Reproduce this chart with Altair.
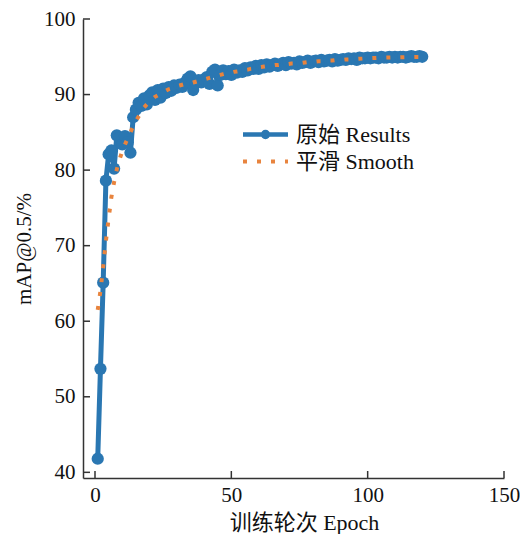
import altair as alt
import pandas as pd

epochs = list(range(1, 121))

results = [
    41.8, 53.7, 65.1, 78.6, 82.1, 82.6, 80.2, 84.6, 84.3, 83.4,
    84.5, 83.7, 82.3, 87.0, 88.0, 88.9, 88.5, 89.5, 88.7, 89.9,
    90.3, 89.3, 90.6, 89.6, 90.8, 90.2, 91.0, 90.5, 91.2, 90.9,
    91.3, 91.0, 91.6, 92.1, 92.4, 90.6, 91.5, 91.9, 91.6, 92.0,
    92.3, 91.4, 93.0, 93.3, 91.2, 92.6, 93.2, 92.7, 93.1, 92.6,
    93.3, 92.9, 93.2, 93.0, 93.5, 93.2, 93.6, 93.4, 93.8, 93.4,
    93.9, 93.6, 94.0, 93.7, 93.9, 94.1, 93.8, 94.0, 94.2, 93.9,
    94.3, 94.1, 94.2, 94.0, 94.4, 94.2, 94.3, 94.5, 94.2, 94.4,
    94.5, 94.3, 94.6, 94.4, 94.5, 94.6, 94.4, 94.7, 94.5, 94.6,
    94.7, 94.6, 94.8, 94.7, 94.8, 94.6, 94.9, 94.8, 94.8, 94.9,
    94.8, 94.9, 94.9, 94.8, 95.0, 94.9, 94.9, 95.0, 94.9, 95.0,
    94.9, 95.0, 95.0, 94.9, 95.0, 95.1, 95.0, 95.0, 95.1, 95.0,
]

smooth = [
    61.5, 64.0, 67.2, 70.6, 73.6, 76.4, 78.4, 80.1, 81.4, 82.5,
    83.4, 84.2, 85.0, 85.8, 86.5, 87.1, 87.7, 88.3, 88.7, 89.1,
    89.4, 89.7, 89.9, 90.1, 90.3, 90.5, 90.7, 90.8, 91.0, 91.1,
    91.2, 91.3, 91.4, 91.5, 91.5, 91.6, 91.7, 91.8, 91.9, 92.0,
    92.1, 92.2, 92.3, 92.4, 92.5, 92.6, 92.7, 92.8, 92.85, 92.9,
    93.0, 93.05, 93.1, 93.2, 93.25, 93.3, 93.4, 93.45, 93.5, 93.6,
    93.65, 93.7, 93.75, 93.8, 93.85, 93.9, 93.9, 93.95, 94.0, 94.0,
    94.05, 94.1, 94.1, 94.15, 94.2, 94.2, 94.25, 94.3, 94.3, 94.35,
    94.35, 94.4, 94.4, 94.45, 94.45, 94.5, 94.5, 94.55, 94.55, 94.6,
    94.6, 94.65, 94.65, 94.7, 94.7, 94.72, 94.75, 94.77, 94.8, 94.8,
    94.82, 94.84, 94.85, 94.87, 94.88, 94.89, 94.9, 94.91, 94.92, 94.92,
    94.93, 94.94, 94.94, 94.95, 94.95, 94.96, 94.96, 94.97, 94.97, 94.97,
]

series_names = ["原始 Results", "平滑 Smooth"]
x_ticks = [0, 50, 100, 150]
y_ticks = [40, 50, 60, 70, 80, 90, 100]

BLUE = "#2a77b2"
ORANGE = "#e8843e"
FONT = "Liberation Serif, Noto Sans CJK SC"
W, H = 421, 459

df = pd.DataFrame({
    "epoch": epochs * 2,
    "value": results + smooth,
    "series": [series_names[0]] * len(epochs) + [series_names[1]] * len(epochs),
})
df_x = pd.DataFrame({"epoch": x_ticks})
df_y = pd.DataFrame({"value": y_ticks})

xscale = alt.Scale(domain=[-4.4, 150], nice=False, zero=False)
yscale = alt.Scale(domain=[39.25, 100], nice=False, zero=False)

legend_common = dict(
    title=None, orient="none", legendX=169,
    labelFont=FONT, labelFontSize=22, labelColor="#111",
    symbolSize=506, labelOffset=17, padding=0,
)

color = alt.Color(
    "series:N",
    scale=alt.Scale(domain=[series_names[0]], range=[BLUE]),
    legend=alt.Legend(
        legendY=102,
        symbolType="M-2,0H2M-0.22,0A0.22,0.22,0,1,0,0.22,0A0.22,0.22,0,1,0,-0.22,0",
        symbolFillColor=BLUE, symbolStrokeWidth=4.5,
        **legend_common,
    ),
)
dash = alt.StrokeDash(
    "series:N",
    scale=alt.Scale(domain=[series_names[1]], range=[[4, 10]]),
    legend=alt.Legend(
        legendY=129,
        symbolType="M-2,0H2",
        symbolStrokeColor=ORANGE, symbolStrokeWidth=4, symbolDash=[4, 6],
        **legend_common,
    ),
)

xenc = alt.X(
    "epoch:Q", scale=xscale,
    axis=alt.Axis(values=x_ticks, title="训练轮次 Epoch", grid=False, tickSize=0,
                  labelPadding=6, titlePadding=7, labelFlush=False,
                  titleFontSize=22, titleX=221, titleAnchor="middle"),
)
yenc = alt.Y(
    "value:Q", scale=yscale,
    axis=alt.Axis(values=y_ticks, title="mAP@0.5/%", grid=False, tickSize=0,
                  labelPadding=8, titlePadding=9, labelFlush=False,
                  titleFontSize=21),
)

base = alt.Chart(df)
blue_line = base.transform_filter(alt.datum.series == series_names[0]).mark_line(
    strokeWidth=5, strokeCap="round", strokeJoin="round"
).encode(x=xenc, y=yenc, color=color)
blue_pts = base.transform_filter(alt.datum.series == series_names[0]).mark_circle(
    size=150, opacity=1, color=BLUE
).encode(x=xenc, y=yenc)
orange_line = base.transform_filter(alt.datum.series == series_names[1]).mark_line(
    strokeWidth=4, strokeCap="butt", color=ORANGE
).encode(x=xenc, y=yenc, strokeDash=dash)

xt = alt.Chart(df_x).mark_rule(color="#333", strokeWidth=1.5).encode(
    x=xenc, y=alt.value(H), y2=alt.value(H - 7)
)
yt = alt.Chart(df_y).mark_rule(color="#333", strokeWidth=1.5).encode(
    y=yenc, x=alt.value(0), x2=alt.value(7)
)

chart = alt.layer(blue_line, blue_pts, orange_line, xt, yt).resolve_legend(
    color="independent", strokeDash="independent"
).properties(
    width=W, height=H,
    autosize=alt.AutoSizeParams(type="none"),
    padding={"left": 75, "top": 11, "right": 16, "bottom": 56},
).configure_view(stroke=None).configure_axis(
    domainColor="#333", domainWidth=1.5,
    labelFont=FONT, labelFontSize=21, labelColor="#111",
    titleFont=FONT, titleColor="#111", titleFontWeight="normal",
)

chart.save("out.html", embed_options={"renderer": "svg", "actions": False})
